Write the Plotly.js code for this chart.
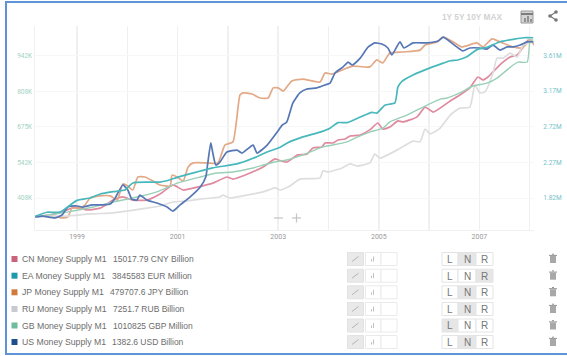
<!DOCTYPE html>
<html>
<head>
<meta charset="utf-8">
<script src="https://cdn.plot.ly/plotly-3.0.1.min.js"></script>
<style>
  html, body { margin: 0; padding: 0; background: #fff; overflow: hidden; }
  #chart { width: 567px; height: 356px; }
</style>
</head>
<body>
<div id="chart"></div>
<script>
// Money supply M1 by region, 1998 to 2008.
// EA is in millions of millions on the right axis; the others share the left axis scale.
const seriesNames = ["CN Money Supply M1", "EA Money Supply M1", "JP Money Supply M1",
                     "RU Money Supply M1", "GB Money Supply M1", "US Money Supply M1"];
const latestValues = ["15017.79 CNY Billion", "3845583 EUR Million", "479707.6 JPY Billion",
                      "7251.7 RUB Billion", "1010825 GBP Million", "1382.6 USD Billion"];
const leftTickValues = [408, 542, 675, 808, 942];
const leftTickLabels = ["408K", "542K", "675K", "808K", "942K"];
const rightTickValues = [1.82, 2.27, 2.72, 3.17, 3.61];
const rightTickLabels = ["1.82M", "2.27M", "2.72M", "3.17M", "3.61M"];
const yearTicks = [1999, 2000, 2001, 2002, 2003, 2004, 2005, 2006, 2007, 2008];
const yearLabels = ["1999", "", "2001", "", "2003", "", "2005", "", "2007", ""];

const cnYears = [1998.17,1998.46,1998.80,1998.96,1999.20,1999.46,1999.72,1999.91,2000.11,2000.39,2000.65,2000.91,2001.11,2001.39,2001.70,2001.98,2002.10,2002.44,2002.70,2002.94,2003.00,2003.17,2003.39,2003.57,2003.69,2003.87,2003.93,2004.09,2004.19,2004.33,2004.43,2004.63,2004.82,2004.98,2005.08,2005.22,2005.38,2005.48,2005.76,2005.92,2006.08,2006.42,2006.61,2006.81,2006.97,2007.07,2007.17,2007.27,2007.45,2007.61,2007.75,2007.87,2007.97,2008.07];
const cnValues = [337,344,363,374,363,370,400,412,400,400,423,457,438,449,464,487,479,502,525,555,551,543,570,573,596,600,615,615,626,630,641,645,664,690,667,675,698,694,713,750,731,773,795,822,863,852,863,882,916,938,946,976,1002,995];

const eaYears = [1998.17,1998.40,1998.66,1998.82,1999.00,1999.26,1999.46,1999.72,1999.95,2000.11,2000.39,2000.65,2000.85,2000.99,2001.39,2001.70,2002.18,2002.50,2002.78,2003.04,2003.17,2003.49,2003.83,2004.03,2004.19,2004.37,2004.63,2004.86,2004.96,2005.12,2005.32,2005.38,2005.46,2005.68,2006.02,2006.28,2006.42,2006.57,2006.75,2006.95,2007.15,2007.41,2007.67,2007.87,2008.07];
const eaValues = [1.59,1.64,1.64,1.71,1.79,1.82,1.87,1.90,1.92,2.01,2.02,2.02,2.05,2.08,2.15,2.20,2.25,2.32,2.40,2.46,2.51,2.59,2.65,2.70,2.77,2.77,2.84,2.90,2.89,2.99,3.02,3.22,3.29,3.37,3.46,3.52,3.55,3.56,3.60,3.69,3.72,3.79,3.82,3.84,3.84];

const jpYears = [1998.17,1998.46,1998.70,1998.82,1998.90,1999.06,1999.16,1999.26,1999.46,1999.66,1999.80,1999.91,2000.01,2000.11,2000.21,2000.35,2000.51,2000.65,2000.85,2000.89,2000.99,2001.11,2001.21,2001.31,2001.58,2001.80,2001.94,2002.10,2002.24,2002.30,2002.48,2002.64,2002.80,2002.90,2003.00,2003.10,2003.27,2003.49,2003.83,2003.93,2004.07,2004.37,2004.49,2004.82,2004.96,2005.08,2005.22,2005.48,2005.82,2005.92,2006.16,2006.28,2006.48,2006.65,2006.95,2007.07,2007.25,2007.41,2007.67,2007.85,2008.01,2008.09];
const jpValues = [337,344,333,337,370,370,382,408,416,416,400,461,453,438,487,487,472,457,453,494,487,472,525,540,540,540,607,619,795,803,799,784,784,822,822,810,848,855,844,878,874,897,904,901,927,916,953,957,964,983,995,1013,995,976,991,976,1006,995,976,972,1002,983];

const ruYears = [1998.17,1998.46,1998.80,1999.26,1999.72,1999.99,2000.39,2000.65,2000.91,2001.19,2001.45,2001.84,2001.90,2002.04,2002.38,2002.70,2002.94,2003.04,2003.23,2003.43,2003.83,2003.89,2003.99,2004.27,2004.43,2004.57,2004.82,2004.92,2005.02,2005.36,2005.68,2005.82,2005.92,2006.02,2006.22,2006.42,2006.61,2006.81,2006.91,2007.01,2007.11,2007.27,2007.35,2007.47,2007.61,2007.75,2007.87,2008.07];
const ruValues = [337,340,340,348,352,359,370,378,393,397,404,412,419,408,419,431,446,438,453,479,483,510,506,521,536,528,540,573,558,588,622,619,667,649,671,720,746,750,833,803,807,878,934,934,953,938,983,995];

const gbYears = [1998.17,1998.80,1999.32,1999.72,2000.11,2000.59,2000.99,2001.45,2001.78,2002.10,2002.50,2002.78,2003.04,2003.17,2003.49,2003.89,2004.37,2004.57,2004.82,2005.08,2005.22,2005.56,2005.88,2006.22,2006.36,2006.61,2006.87,2007.15,2007.35,2007.67,2007.77,2007.95,2008.01,2008.07];
const gbValues = [337,355,374,393,408,431,464,487,502,506,521,536,547,551,570,600,619,637,656,671,694,720,750,780,784,803,829,840,859,908,919,919,1002,1002];

const usYears = [1998.17,1998.32,1998.56,1998.70,1998.82,1999.00,1999.12,1999.30,1999.50,1999.66,1999.76,1999.91,2000.01,2000.09,2000.19,2000.25,2000.39,2000.59,2000.79,2000.91,2001.05,2001.25,2001.45,2001.56,2001.60,2001.66,2001.70,2001.76,2001.84,2001.98,2002.18,2002.28,2002.50,2002.58,2002.78,2002.98,2003.08,2003.17,2003.29,2003.43,2003.57,2003.77,2003.93,2004.03,2004.13,2004.29,2004.39,2004.47,2004.63,2004.79,2004.92,2005.06,2005.18,2005.26,2005.42,2005.50,2005.68,2005.96,2006.18,2006.28,2006.42,2006.55,2006.67,2006.81,2007.01,2007.15,2007.27,2007.41,2007.55,2007.67,2007.81,2007.95,2008.07];
const usValues = [337,340,333,344,374,378,374,382,382,385,408,457,438,404,400,419,400,389,374,359,382,412,449,487,540,615,577,532,543,581,588,577,607,577,607,656,682,694,765,803,818,822,833,840,878,901,919,908,934,976,991,987,972,946,995,972,991,991,998,1013,995,976,961,972,972,968,983,964,976,976,983,995,995];

const swatchColors = ["#cb627c", "#1d9aab", "#cf7a3e", "#c9c9d0", "#6fbb9d", "#1f4e8e"];
const lineColors = ["#df8a9e", "#48b8bc", "#e3a987", "#dedede", "#9ad0b8", "#5577b5"];

const W = 567, H = 356;
const px = x => x / W;
const py = y => 1 - y / H;

function line(x, y, yaxis, i, width) {
  return { x, y, yaxis, type: "scatter", mode: "lines", name: seriesNames[i],
           line: { color: lineColors[i], width, shape: "spline", smoothing: 0.5 }, hoverinfo: "skip" };
}
const traces = [
  line(cnYears, cnValues, "y", 0, 1.7),
  line(eaYears, eaValues, "y2", 1, 1.7),
  line(jpYears, jpValues, "y", 2, 1.7),
  line(ruYears, ruValues, "y", 3, 1.7),
  line(gbYears, gbValues, "y", 4, 1.4),
  line(usYears, usValues, "y", 5, 1.7)
];

const shapes = [];
const annotations = [];
function box(x0, y0, x1, y1, fill, stroke, width) {
  shapes.push({ type: "rect", xref: "paper", yref: "paper", x0: px(x0), x1: px(x1), y0: py(y1), y1: py(y0),
                fillcolor: fill || "rgba(0,0,0,0)", line: { color: stroke || "rgba(0,0,0,0)", width: width === undefined ? 1 : width } });
}
function seg(x0, y0, x1, y1, color, width) {
  shapes.push({ type: "line", xref: "paper", yref: "paper", x0: px(x0), x1: px(x1), y0: py(y0), y1: py(y1),
                line: { color, width } });
}
function dot(cx, cy, r, fill) {
  shapes.push({ type: "circle", xref: "paper", yref: "paper", x0: px(cx - r), x1: px(cx + r), y0: py(cy + r), y1: py(cy - r),
                fillcolor: fill, line: { width: 0 } });
}
function label(x, y, text, size, color, anchor, family, weight) {
  annotations.push({ xref: "paper", yref: "paper", x: px(x), y: py(y), text, showarrow: false,
                     xanchor: anchor || "left", yanchor: "middle", borderpad: 0,
                     font: { size, color, family: family || "Liberation Sans, Arial, sans-serif", weight: weight || 400 } });
}

// Frame around the widget
box(6, 2, 572, 354, null, "#5f93d8", 2);

// Range selector and toolbar icons
label(472, 17, "1Y 5Y 10Y MAX", 8.3, "#d2d2d2", "center", null, 700);
box(521, 11, 533, 23, "#d4d4d4", "#9a9a9a", 1);
seg(521, 14, 533, 14, "#7d7d7d", 2);
seg(525, 22, 525, 18, "#666", 1.2);
seg(528, 22, 528, 16, "#666", 1.2);
seg(531, 22, 531, 19, "#666", 1.2);
seg(550, 16, 556, 12, "#777", 1.2);
seg(550, 16, 556, 20, "#777", 1.2);
dot(550, 16, 1.8, "#777");
dot(556, 12, 1.8, "#777");
dot(556, 20, 1.8, "#777");

// Zoom controls on the plot
seg(274, 218, 283, 218, "#c4c4c4", 1.2);
seg(292, 218, 301, 218, "#c4c4c4", 1.2);
seg(296.5, 213.5, 296.5, 222.5, "#c4c4c4", 1.2);

// Series rows under the plot
const rowCentres = [259, 275.7, 292.3, 309, 325.5, 342];
const valueStarts = [112, 111, 109, 112, 112, 111];
const activeAxis = [1, 2, 1, 1, 0, 1];
seriesNames.forEach((name, i) => {
  const c = rowCentres[i];
  box(11.5, c - 3, 17.5, c + 3, swatchColors[i]);
  label(20.5, c, name, 8.7, "#6d6d6d");
  label(valueStarts[i], c, latestValues[i], 8.5, "#6d6d6d");

  box(347.5, c - 6.5, 363.5, c + 6.5, "#e9e9e9", "#e2e2e2");
  box(365.5, c - 6.5, 381, c + 6.5, "#fff", "#eaeaea");
  box(381, c - 6.5, 397, c + 6.5, "#fff", "#eaeaea");
  seg(352, c + 2.5, 358.5, c - 2.5, "#b4b4b4", 1);
  seg(371.5, c + 2.5, 371.5, c, "#c2c2c2", 1);
  seg(373.5, c + 2.5, 373.5, c - 2.5, "#c2c2c2", 1);

  ["L", "N", "R"].forEach((letter, k) => {
    const x0 = [442, 458, 476][k], x1 = [458, 476, 493][k];
    box(x0, c - 6.5, x1, c + 6.5, k === activeAxis[i] ? "#e6e6e6" : "#fff", "#e4e4e4");
    label((x0 + x1) / 2, c + 0.3, letter, 10, "#777", "center");
  });

  box(550, c - 3, 556, c + 4, "#a8a8a8");
  seg(549, c - 3.6, 557, c - 3.6, "#929292", 1);
  seg(552, c - 4.8, 554, c - 4.8, "#929292", 1);
});

const layout = {
  width: W, height: H,
  margin: { l: 0, r: 0, t: 0, b: 0 },
  paper_bgcolor: "#fff", plot_bgcolor: "#fff",
  showlegend: false, hovermode: false, dragmode: false,
  xaxis: {
    domain: [px(34.5), px(534)], range: [1998.155, 2008.085], anchor: "y",
    tickmode: "array", tickvals: yearTicks, ticktext: yearLabels,
    tickfont: { size: 7, color: "#9a9a9a", family: "Roboto, sans-serif" }, ticks: "", ticklen: 0,
    showgrid: true, gridcolor: "#f0f0f0", gridwidth: 1.5, zeroline: false,
    showline: true, linecolor: "#f0f0f0", linewidth: 1, fixedrange: true
  },
  yaxis: {
    domain: [py(230), py(26)], range: [287.7, 1054.7], anchor: "x",
    tickmode: "array", tickvals: leftTickValues, ticktext: leftTickLabels,
    tickfont: { size: 6.5, color: "#a4d3c2", family: "Roboto, sans-serif" }, ticks: "", ticklen: 0,
    showgrid: true, gridcolor: "#f7f7f7", gridwidth: 1, zeroline: false,
    showline: true, linecolor: "#f0f0f0", linewidth: 1, fixedrange: true
  },
  yaxis2: {
    domain: [py(230), py(26)], range: [1.4166, 3.988], overlaying: "y", side: "right", anchor: "x",
    tickmode: "array", tickvals: rightTickValues, ticktext: rightTickLabels,
    tickfont: { size: 6.5, color: "#74c2ca", family: "Roboto, sans-serif" },
    ticks: "outside", ticklen: 7, tickcolor: "rgba(0,0,0,0)",
    showgrid: false, zeroline: false, showline: false, fixedrange: true
  },
  shapes, annotations
};

Plotly.newPlot("chart", traces, layout, { displayModeBar: false, staticPlot: true });
</script>
</body>
</html>
